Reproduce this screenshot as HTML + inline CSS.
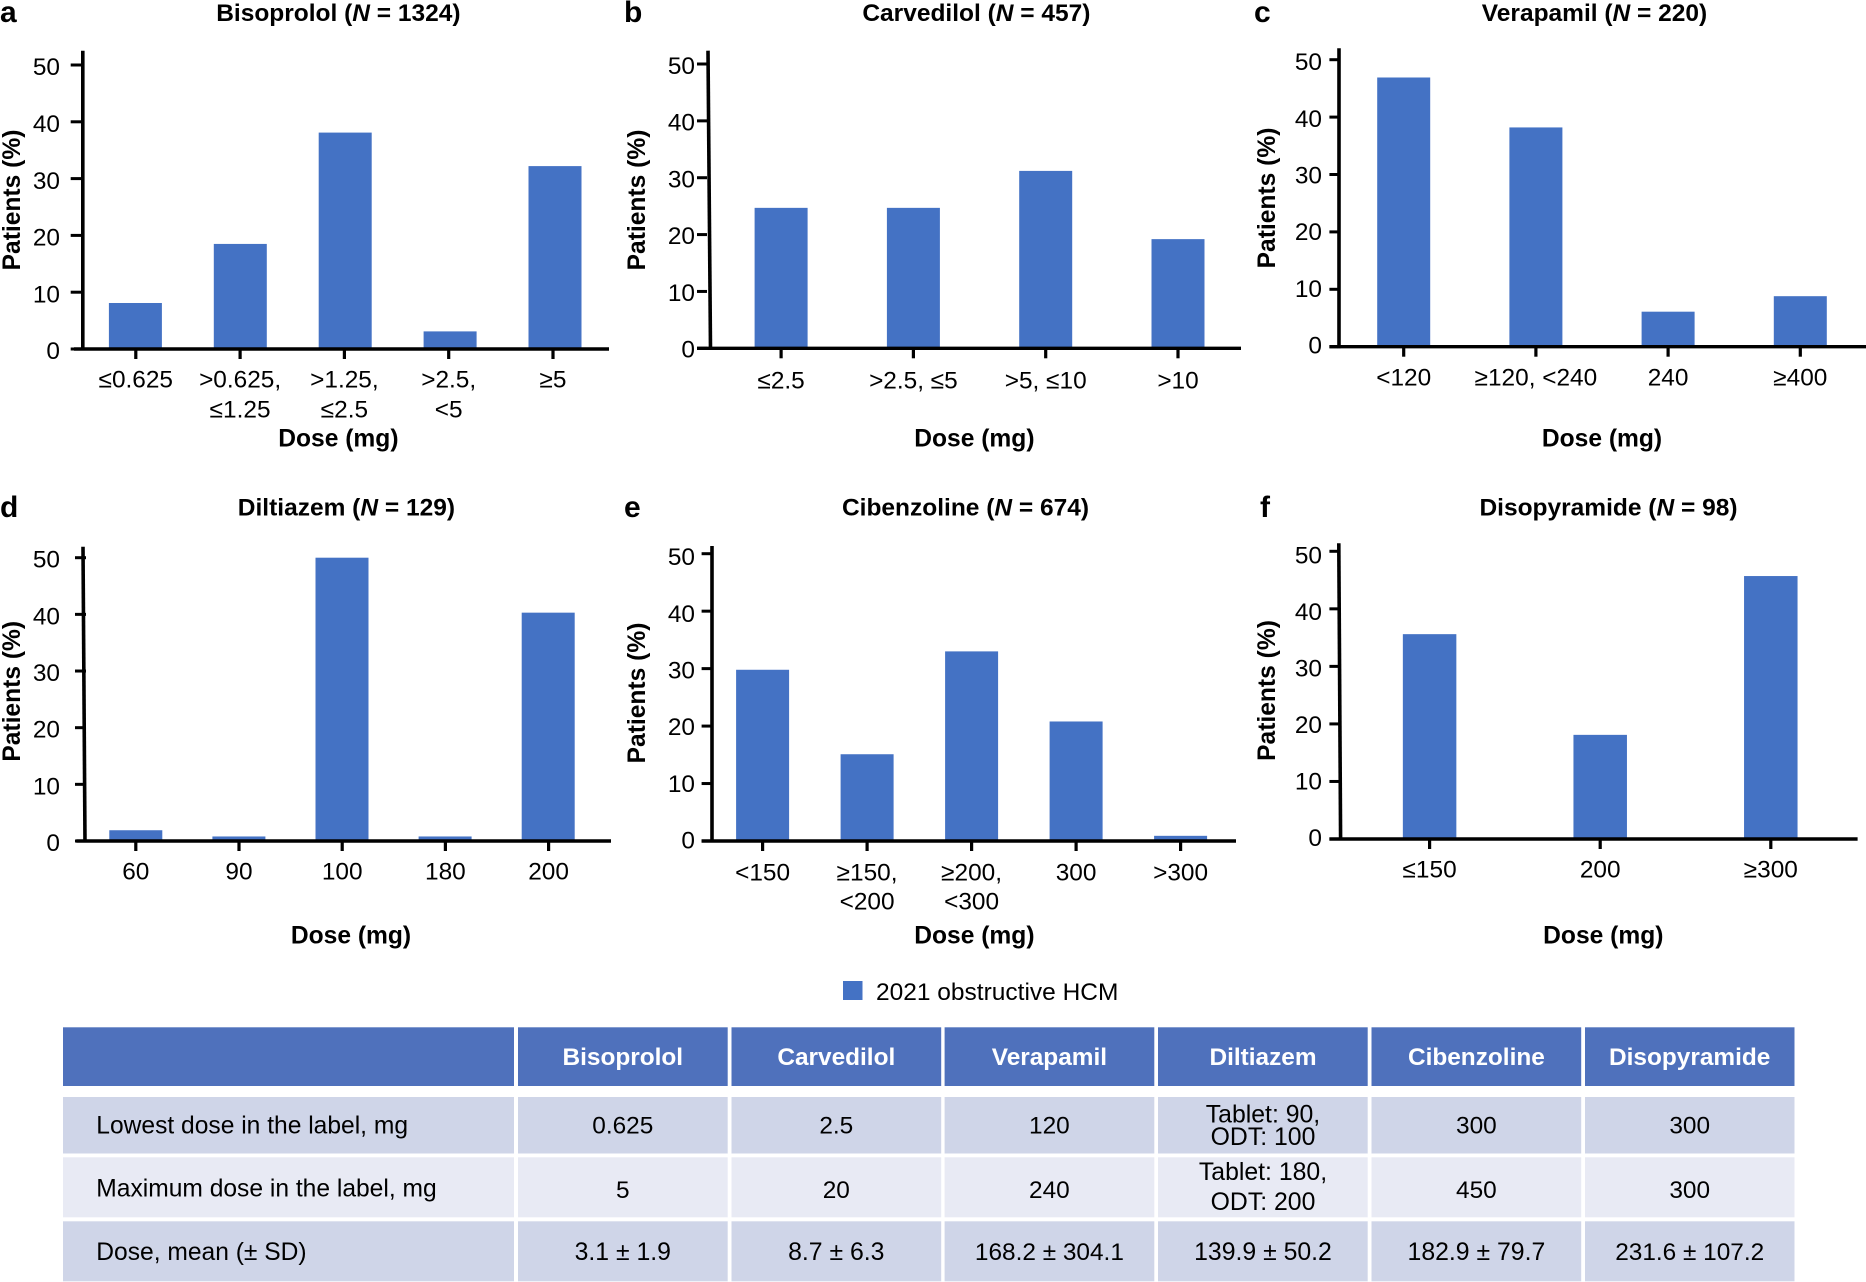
<!DOCTYPE html>
<html lang="en">
<head>
<meta charset="utf-8">
<title>Dose distribution by drug in obstructive HCM</title>
<style>
html,body{margin:0;padding:0;background:#fff;}
body{width:1866px;height:1282px;overflow:hidden;}
svg{display:block;}
text{font-family:"Liberation Sans",Arial,sans-serif;fill:#000;font-size:24.4px;}
.b{font-weight:bold;font-size:24.6px;}
.m{text-anchor:middle;}
.panel-letter{font-size:30px;font-weight:bold;}
.hd{fill:#fff;font-weight:bold;text-anchor:middle;font-size:24.4px;}
</style>
</head>
<body>
<svg id="figure" xmlns="http://www.w3.org/2000/svg" width="1866" height="1282" viewBox="0 0 1866 1282">
<g id="charts"></g>

<g>
<rect x="843" y="981" width="19.5" height="19" fill="#4472c4"/>
<text x="876" y="1000" style="font-size:24.5px">2021 obstructive HCM</text>
</g>

<g>
<g fill="#4f71bc">
<rect x="63" y="1027.3" width="451" height="58.7"/>
<rect x="518" y="1027.3" width="209.7" height="58.7"/>
<rect x="731.5" y="1027.3" width="209.7" height="58.7"/>
<rect x="944.6" y="1027.3" width="209.7" height="58.7"/>
<rect x="1158" y="1027.3" width="209.7" height="58.7"/>
<rect x="1371.5" y="1027.3" width="209.7" height="58.7"/>
<rect x="1585" y="1027.3" width="209.5" height="58.7"/>
<text class="hd" x="622.8" y="1065">Bisoprolol</text>
<text class="hd" x="836.3" y="1065">Carvedilol</text>
<text class="hd" x="1049.4" y="1065">Verapamil</text>
<text class="hd" x="1263" y="1065">Diltiazem</text>
<text class="hd" x="1476.4" y="1065">Cibenzoline</text>
<text class="hd" x="1689.7" y="1065">Disopyramide</text>
</g>

<g fill="#cfd5e8">
<rect x="63" y="1097" width="451" height="56.5"/>
<rect x="518" y="1097" width="209.7" height="56.5"/>
<rect x="731.5" y="1097" width="209.7" height="56.5"/>
<rect x="944.6" y="1097" width="209.7" height="56.5"/>
<rect x="1158" y="1097" width="209.7" height="56.5"/>
<rect x="1371.5" y="1097" width="209.7" height="56.5"/>
<rect x="1585" y="1097" width="209.5" height="56.5"/>
<text x="96.3" y="1133.5" style="font-size:24.6px">Lowest dose in the label, mg</text>
<text class="m" x="622.8" y="1133.5">0.625</text>
<text class="m" x="836.3" y="1133.5">2.5</text>
<text class="m" x="1049.4" y="1133.5">120</text>
<text class="m" x="1263" y="1122.5" style="font-size:24.8px">Tablet: 90,</text>
<text class="m" x="1263" y="1145" style="font-size:24.8px">ODT: 100</text>
<text class="m" x="1476.4" y="1133.5">300</text>
<text class="m" x="1689.7" y="1133.5">300</text>
</g>

<g fill="#e8eaf4">
<rect x="63" y="1157.3" width="451" height="60"/>
<rect x="518" y="1157.3" width="209.7" height="60"/>
<rect x="731.5" y="1157.3" width="209.7" height="60"/>
<rect x="944.6" y="1157.3" width="209.7" height="60"/>
<rect x="1158" y="1157.3" width="209.7" height="60"/>
<rect x="1371.5" y="1157.3" width="209.7" height="60"/>
<rect x="1585" y="1157.3" width="209.5" height="60"/>
<text x="96.3" y="1196.5" style="font-size:24.6px">Maximum dose in the label, mg</text>
<text class="m" x="622.8" y="1198">5</text>
<text class="m" x="836.3" y="1198">20</text>
<text class="m" x="1049.4" y="1198">240</text>
<text class="m" x="1263" y="1180" style="font-size:24.8px">Tablet: 180,</text>
<text class="m" x="1263" y="1210" style="font-size:24.8px">ODT: 200</text>
<text class="m" x="1476.4" y="1198">450</text>
<text class="m" x="1689.7" y="1198">300</text>
</g>

<g fill="#cfd5e8">
<rect x="63" y="1221.3" width="451" height="60"/>
<rect x="518" y="1221.3" width="209.7" height="60"/>
<rect x="731.5" y="1221.3" width="209.7" height="60"/>
<rect x="944.6" y="1221.3" width="209.7" height="60"/>
<rect x="1158" y="1221.3" width="209.7" height="60"/>
<rect x="1371.5" y="1221.3" width="209.7" height="60"/>
<rect x="1585" y="1221.3" width="209.5" height="60"/>
<text x="96.3" y="1260" style="font-size:24.6px">Dose, mean (± SD)</text>
<text class="m" x="622.8" y="1260" style="font-size:24.8px">3.1 ± 1.9</text>
<text class="m" x="836.3" y="1260" style="font-size:24.8px">8.7 ± 6.3</text>
<text class="m" x="1049.4" y="1260">168.2 ± 304.1</text>
<text class="m" x="1263" y="1260" style="font-size:24.8px">139.9 ± 50.2</text>
<text class="m" x="1476.4" y="1260" style="font-size:24.8px">182.9 ± 79.7</text>
<text class="m" x="1689.7" y="1260">231.6 ± 107.2</text>
</g>
</g>
</svg>

<script>
// ---- Chart data ----
const yTickValues = [0, 10, 20, 30, 40, 50];

const bisoprololCategories = ["≤0.625", ">0.625,\n≤1.25", ">1.25,\n≤2.5", ">2.5,\n<5", "≥5"];
const bisoprololValues = [8.1, 18.5, 38.1, 3.1, 32.2];

const carvedilolCategories = ["≤2.5", ">2.5, ≤5", ">5, ≤10", ">10"];
const carvedilolValues = [24.7, 24.7, 31.2, 19.2];

const verapamilCategories = ["<120", "≥120, <240", "240", "≥400"];
const verapamilValues = [46.9, 38.2, 6.1, 8.8];

const diltiazemCategories = ["60", "90", "100", "180", "200"];
const diltiazemValues = [1.9, 0.8, 50, 0.8, 40.3];

const cibenzolineCategories = ["<150", "≥150,\n<200", "≥200,\n<300", "300", ">300"];
const cibenzolineValues = [29.8, 15.1, 33.0, 20.8, 0.9];

const disopyramideCategories = ["≤150", "200", "≥300"];
const disopyramideValues = [35.6, 18.1, 45.7];

// ---- Panel frames ----
const panels = [
  {letter:"a", id:"bisoprolol", drug:"Bisoprolol", n:"1324", categories:bisoprololCategories, values:bisoprololValues,
   letterX:0, letterY:22, titleX:338.4, titleY:21, doseX:338.4, doseY:446.7, yLabelX:20, yLabelY:200,
   axisTopX:82.8, axisBottomX:82.8, axisTopY:50.7, zeroY:349, fiftyY:65, xStart:74, xEnd:609,
   tickLeft:70.7, tickRight:81.5, tickLabelRight:60, labelZeroY:359.2, labelFiftyY:75.2, firstTick:135.8, tickStep:104.3, firstBar:135.4, barStep:104.9, barWidth:53, catOffset:38.3, catLine:30},
  {letter:"b", id:"carvedilol", drug:"Carvedilol", n:"457", categories:carvedilolCategories, values:carvedilolValues,
   letterX:624, letterY:22, titleX:976.4, titleY:21, doseX:974.4, doseY:446.7, yLabelX:645, yLabelY:200,
   axisTopX:708, axisBottomX:710.5, axisTopY:50.7, zeroY:348.3, fiftyY:64, xStart:697, xEnd:1241,
   tickLeft:697, tickRight:707, tickLabelRight:695, labelZeroY:357.6, labelFiftyY:74, firstTick:781.1, tickStep:132.3, firstBar:781.1, barStep:132.3, barWidth:53, catOffset:40, catLine:30},
  {letter:"c", id:"verapamil", drug:"Verapamil", n:"220", categories:verapamilCategories, values:verapamilValues,
   letterX:1254, letterY:22, titleX:1594.5, titleY:21, doseX:1602, doseY:446.7, yLabelX:1275, yLabelY:198,
   axisTopX:1339, axisBottomX:1339, axisTopY:48.3, zeroY:346.7, fiftyY:59.7, xStart:1329.4, xEnd:1866,
   tickLeft:1329.4, tickRight:1338, tickLabelRight:1322, labelZeroY:353.5, labelFiftyY:70.2, firstTick:1403.7, tickStep:132.2, firstBar:1403.7, barStep:132.2, barWidth:53, catOffset:38.7, catLine:30},
  {letter:"d", id:"diltiazem", drug:"Diltiazem", n:"129", categories:diltiazemCategories, values:diltiazemValues,
   letterX:0, letterY:517, titleX:346.4, titleY:515.5, doseX:351, doseY:943.3, yLabelX:20, yLabelY:691.3,
   axisTopX:83, axisBottomX:85, axisTopY:546.7, zeroY:841, fiftyY:557.7, xStart:76.3, xEnd:611,
   tickLeft:75, tickRight:86, tickLabelRight:60, labelZeroY:851, labelFiftyY:567.7, firstTick:135.8, tickStep:103.2, firstBar:135.8, barStep:103.1, barWidth:53, catOffset:38.3, catLine:30},
  {letter:"e", id:"cibenzoline", drug:"Cibenzoline", n:"674", categories:cibenzolineCategories, values:cibenzolineValues,
   letterX:624, letterY:517, titleX:965.5, titleY:515.5, doseX:974.4, doseY:943.3, yLabelX:645, yLabelY:693,
   axisTopX:712, axisBottomX:712, axisTopY:546, zeroY:841, fiftyY:553.7, xStart:701.6, xEnd:1236,
   tickLeft:701.6, tickRight:711, tickLabelRight:695, labelZeroY:848.5, labelFiftyY:565.2, firstTick:762.6, tickStep:104.5, firstBar:762.6, barStep:104.5, barWidth:53, catOffset:39.7, catLine:28.6},
  {letter:"f", id:"disopyramide", drug:"Disopyramide", n:"98", categories:disopyramideCategories, values:disopyramideValues,
   letterX:1260, letterY:517, titleX:1608.5, titleY:515.5, doseX:1603.3, doseY:943.3, yLabelX:1275, yLabelY:690.5,
   axisTopX:1338.8, axisBottomX:1340.6, axisTopY:543.3, zeroY:839, fiftyY:551.3, xStart:1329.4, xEnd:1857.6,
   tickLeft:1329.4, tickRight:1339, tickLabelRight:1322, labelZeroY:846.2, labelFiftyY:563.5, firstTick:1429.6, tickStep:170.6, firstBar:1429.6, barStep:170.6, barWidth:53.5, catOffset:38.3, catLine:30}
];

const SVG_NS = "http://www.w3.org/2000/svg";
const root = document.getElementById("charts");

function make(parent, tag, attrs, txt) {
  const el = document.createElementNS(SVG_NS, tag);
  for (const k in attrs) el.setAttribute(k, attrs[k]);
  if (txt !== undefined) el.textContent = txt;
  parent.appendChild(el);
  return el;
}

function drawPanel(p) {
  const yScale = function (v) { return p.zeroY - v * (p.zeroY - p.fiftyY) / 50; };
  const yLabelScale = function (v) { return p.labelZeroY - v * (p.labelZeroY - p.labelFiftyY) / 50; };
  const tickX = function (i) { return p.firstTick + i * p.tickStep; };
  const barX = function (i) { return p.firstBar + i * p.barStep; };

  const g = make(root, "g", {});
  
  

  const letter = make(g, "text", {x:p.letterX, y:p.letterY, "class":"panel-letter"}, p.letter);
  
  

  const title = make(g, "text", {x:p.titleX, y:p.titleY, "class":"b m", style:"font-size:24.5px"});
  
  
  make(title, "tspan", {}, p.drug + " (");
  make(title, "tspan", {"font-style":"italic"}, "N");
  make(title, "tspan", {}, " = " + p.n + ")");

  // bars
  p.values.forEach(function (v, i) {
    const top = yScale(v);
    const bar = make(g, "rect", {x:barX(i) - p.barWidth / 2, y:top, width:p.barWidth, height:p.zeroY - top, fill:"#4472c4"});
    
    
  });

  // y axis
  const yAxis = make(g, "line", {x1:p.axisTopX, y1:p.axisTopY, x2:p.axisBottomX, y2:p.zeroY + 1.5, stroke:"#000", "stroke-width":3.6});
  
  

  yTickValues.forEach(function (v) {
    const y = yScale(v);
    const tick = make(g, "line", {x1:p.tickLeft, y1:y, x2:p.tickRight, y2:y, stroke:"#000", "stroke-width":3});
    
    
    const lab = make(g, "text", {x:p.tickLabelRight, y:yLabelScale(v), "text-anchor":"end"}, String(v));
    
    
  });

  // x axis
  const xAxis = make(g, "line", {x1:p.xStart, y1:p.zeroY, x2:p.xEnd, y2:p.zeroY, stroke:"#000", "stroke-width":3.4});
  
  

  p.categories.forEach(function (c, i) {
    const x = tickX(i);
    const tick = make(g, "line", {x1:x, y1:p.zeroY, x2:x, y2:p.zeroY + 10, stroke:"#000", "stroke-width":3.2});
    
    
    c.split("\n").forEach(function (line, j) {
      const lab = make(g, "text", {x:x, y:p.zeroY + p.catOffset + j * p.catLine, "class":"m"}, line);
      
      
    });
  });

  const dose = make(g, "text", {x:p.doseX, y:p.doseY, "class":"b m"}, "Dose (mg)");
  
  

  const yLabel = make(g, "text", {"class":"b m", transform:"translate(" + p.yLabelX + "," + p.yLabelY + ") rotate(-90)"}, "Patients (%)");
  
  
}

panels.forEach(drawPanel);
</script>
</body>
</html>
